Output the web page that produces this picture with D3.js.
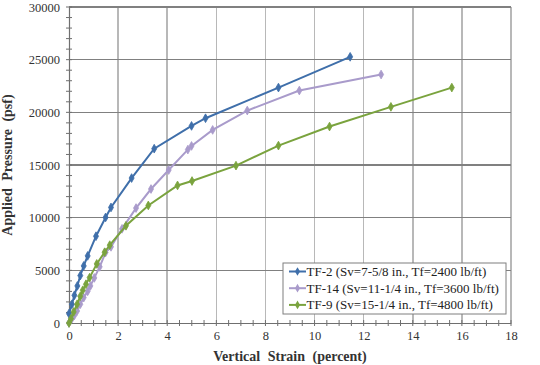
<!DOCTYPE html>
<html>
<head>
<meta charset="utf-8">
<script src="https://cdn.jsdelivr.net/npm/d3@7"></script>
<style>
  body { margin: 0; background: #fff; }
</style>
</head>
<body>
<div class="graph"></div>
<script>
// strain (percent) and pressure (psf)
var tf2Strain = [0, 0.12, 0.22, 0.34, 0.46, 0.6, 0.76, 1.1, 1.49, 1.71, 2.55, 3.47, 4.99, 5.56, 8.53, 11.45];
var tf2Press  = [890, 1780, 2630, 3520, 4500, 5420, 6370, 8240, 10020, 10970, 13760, 16550, 18710, 19440, 22350, 25270];

var tf14Strain = [0, 0.12, 0.22, 0.33, 0.46, 0.6, 0.76, 0.87, 1.03, 1.25, 1.49, 1.71, 2.16, 2.73, 3.34, 4.06, 4.84, 4.99, 5.85, 7.26, 9.38, 12.71];
var tf14Press  = [0, 410, 730, 1140, 1780, 2410, 3010, 3520, 4280, 5330, 6690, 7230, 8940, 10910, 12720, 14520, 16460, 16810, 18330, 20170, 22070, 23590];

var tf9Strain = [0, 0.08, 0.19, 0.33, 0.46, 0.56, 0.69, 0.84, 1.13, 1.45, 1.66, 2.32, 3.23, 4.42, 5.01, 6.8, 8.53, 10.61, 13.11, 15.59];
var tf9Press  = [0, 410, 1050, 1780, 2540, 3110, 3680, 4310, 5610, 6720, 7390, 9230, 11160, 13060, 13480, 14940, 16840, 18650, 20520, 22350];

var seriesNames = ["TF-2 (Sv=7-5/8 in., Tf=2400 lb/ft)", "TF-14 (Sv=11-1/4 in., Tf=3600 lb/ft)", "TF-9 (Sv=15-1/4 in., Tf=4800 lb/ft)"];
var seriesColors = ["#3f6faa", "#a99bcb", "#7aa33e"];

var xTicks = [0, 2, 4, 6, 8, 10, 12, 14, 16, 18];
var yTicks = [0, 5000, 10000, 15000, 20000, 25000, 30000];

var FONT = "Times New Roman";

var zip = function(xs, ys) {
  return xs.map(function(v, i) { return {x: v, y: ys[i]}; });
};
var series = [zip(tf2Strain, tf2Press), zip(tf14Strain, tf14Press), zip(tf9Strain, tf9Press)];

var margin = {top: 7, right: 29, bottom: 42, left: 69},
    width = 540 - margin.left - margin.right,
    height = 365 - margin.top - margin.bottom;

var xScale = d3.scaleLinear().domain([0, 18]).range([0, width]);
var yScale = d3.scaleLinear().domain([0, 30000]).range([height, 0]);

var svg = d3.select("div.graph").append("svg")
    .attr("width", 540)
    .attr("height", 365)
  .append("g")
    .attr("transform", "translate(" + margin.left + "," + margin.top + ")");

// gridlines: lighter verticals, darker horizontals
var grid = svg.append("g").attr("class", "grid").attr("shape-rendering", "crispEdges");
xTicks.slice(1).forEach(function(d) {
  grid.append("line")
    .attr("x1", xScale(d)).attr("x2", xScale(d))
    .attr("y1", 0).attr("y2", height)
    .attr("stroke", "#b8b8b8").attr("stroke-width", 1.5);
});
yTicks.slice(1).forEach(function(d) {
  grid.append("line")
    .attr("x1", 0).attr("x2", width)
    .attr("y1", yScale(d)).attr("y2", yScale(d))
    .attr("stroke", "#808080").attr("stroke-width", 1.5);
});

// minor ticks crossing the axes
var minor = svg.append("g").attr("class", "minor");
d3.range(0, 30001, 1000).forEach(function(d) {
  minor.append("line")
    .attr("x1", -3).attr("x2", 3)
    .attr("y1", yScale(d)).attr("y2", yScale(d))
    .attr("stroke", "#6f6f6f");
});
d3.range(0, 18.01, 0.5).forEach(function(d) {
  minor.append("line")
    .attr("x1", xScale(d)).attr("x2", xScale(d))
    .attr("y1", height - 3).attr("y2", height + 3)
    .attr("stroke", "#6f6f6f");
});

// axes
var xAxis = svg.append("g")
    .attr("class", "x-axis")
    .attr("transform", "translate(0," + height + ")")
    .call(d3.axisBottom(xScale).tickValues(xTicks).tickSize(0).tickPadding(8));

var yAxis = svg.append("g")
    .attr("class", "y-axis")
    .call(d3.axisLeft(yScale).tickValues(yTicks).tickSize(0).tickPadding(9).tickFormat(d3.format("d")));

[xAxis, yAxis].forEach(function(a) {
  a.attr("font-family", FONT).attr("font-size", 12.5);
  a.select(".domain").attr("stroke", "#6f6f6f").attr("stroke-width", 1.2);
  a.selectAll("text").attr("fill", "#333");
});

// lines and markers
var lineGen = d3.line()
    .x(function(d) { return xScale(d.x); })
    .y(function(d) { return yScale(d.y); });

var diamond = d3.symbol().type(d3.symbolDiamond).size(22);

series.forEach(function(data, i) {
  var g = svg.append("g").attr("class", "series");
  g.append("path")
    .attr("fill", "none")
    .attr("stroke", seriesColors[i])
    .attr("stroke-width", 2)
    .attr("d", lineGen(data));

  data.forEach(function(d) {
    g.append("path")
      .attr("d", diamond())
      .attr("transform", "translate(" + xScale(d.x) + "," + yScale(d.y) + ")")
      .attr("fill", seriesColors[i])
      .attr("stroke", seriesColors[i])
      .attr("stroke-width", 0.8);
  });
});

// axis titles
svg.append("text")
    .attr("x", width / 2)
    .attr("y", height + 38)
    .attr("text-anchor", "middle")
    .attr("font-family", FONT)
    .attr("font-size", 14)
    .attr("font-weight", "bold")
    .attr("fill", "#333")
    .attr("word-spacing", 4)
    .text("Vertical Strain (percent)");

svg.append("text")
    .attr("transform", "translate(" + (-57) + "," + (height / 2) + ") rotate(-90)")
    .attr("text-anchor", "middle")
    .attr("font-family", FONT)
    .attr("font-size", 14)
    .attr("font-weight", "bold")
    .attr("fill", "#333")
    .attr("word-spacing", 4)
    .text("Applied Pressure (psf)");

// legend
var legend = svg.append("g")
    .attr("transform", "translate(" + (283 - margin.left) + "," + (263 - margin.top) + ")");

legend.append("rect")
    .attr("width", 223).attr("height", 51)
    .attr("fill", "#fff")
    .attr("stroke", "#7f7f7f")
    .attr("stroke-width", 1);

seriesNames.forEach(function(name, i) {
  var ly = 8.5 + i * 16.7;
  legend.append("line")
    .attr("x1", 6).attr("x2", 23)
    .attr("y1", ly).attr("y2", ly)
    .attr("stroke", seriesColors[i]).attr("stroke-width", 2);
  legend.append("path")
    .attr("d", diamond())
    .attr("transform", "translate(14.5," + ly + ")")
    .attr("fill", seriesColors[i]);
  legend.append("text")
    .attr("x", 23.5)
    .attr("y", ly + 4.5)
    .attr("font-family", FONT)
    .attr("font-size", 13)
    .attr("fill", "#222")
    .text(name);
});
</script>
</body>
</html>
